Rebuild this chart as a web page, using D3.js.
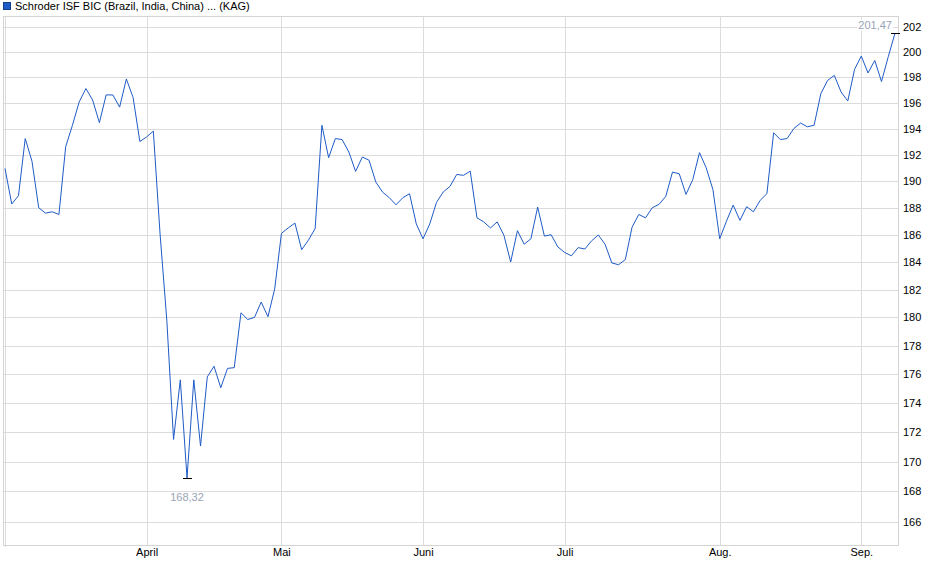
<!DOCTYPE html>
<html lang="de">
<head>
    <meta charset="UTF-8">
    <title>Schroder ISF BIC</title>
    <script src="https://cdn.jsdelivr.net/npm/d3@7"></script>
    <style>
        body { margin: 0; background: #fff; }
        text { font-family: "Liberation Sans", Arial, sans-serif; }
    </style>
</head>
<body>
<div id="chart"></div>

<script>
    // fund name and price series (one value per trading day)
    var title = "Schroder ISF BIC (Brazil, India, China) ... (KAG)";
    var prices = [
        190.95, 188.28, 188.9, 193.23, 191.5, 188.0, 187.6, 187.7, 187.5, 192.6,
        194.25, 196.05, 197.1, 196.2, 194.45, 196.6, 196.6, 195.65, 197.85, 196.4,
        193.0, 193.35, 193.8, 186.05, 179.8, 171.5, 175.6, 168.9, 175.6, 171.05,
        175.8, 176.55, 175.05, 176.4, 176.45, 180.33, 179.85, 180.0, 181.1, 180.05,
        182.05, 186.1, 186.5, 186.86, 184.9, 185.6, 186.45, 194.25, 191.77, 193.23,
        193.15, 192.2, 190.73, 191.82, 191.57, 189.92, 189.17, 188.75, 188.22, 188.75,
        189.05, 186.8, 185.7, 186.8, 188.4, 189.18, 189.6, 190.5, 190.43, 190.75,
        187.25, 186.95, 186.5, 186.95, 185.95, 184.0, 186.3, 185.3, 185.7, 188.05,
        185.9, 186.0, 185.1, 184.7, 184.45, 185.05, 184.95, 185.55, 185.98, 185.3,
        183.93, 183.8, 184.17, 186.55, 187.5, 187.25, 188.0, 188.25, 188.85, 190.68,
        190.55, 189.0, 190.1, 192.15, 191.0, 189.35, 185.7, 187.0, 188.2, 187.06,
        188.08, 187.7, 188.55, 189.05, 193.67, 193.15, 193.23, 194.0, 194.42, 194.13,
        194.25, 196.7, 197.73, 198.13, 196.83, 196.13, 198.6, 199.65, 198.32, 199.3,
        197.65, 199.6, 201.47
    ];
    // month starts as index into prices
    var monthIndex = [21, 41, 62, 83, 106, 127];
    var monthLabels = ["April", "Mai", "Juni", "Juli", "Aug.", "Sep."];
    var yTicks = [166, 168, 170, 172, 174, 176, 178, 180, 182, 184, 186, 188, 190, 192, 194, 196, 198, 200, 202];
    var minLabel = "168,32";
    var maxLabel = "201,47";

    var width = 940, height = 579;
    var plot = {left: 3, right: 898, top: 16, bottom: 545};

    var x = d3.scaleLinear()
        .domain([0, prices.length - 1])
        .range([5, 895]);
    // log price axis
    var y = d3.scaleLog()
        .domain([164.47, 202.85])
        .range([plot.bottom, plot.top]);

    var svg = d3.select("#chart")
        .append("svg")
            .attr("width", width)
            .attr("height", height);

    // title with legend square
    svg.append("rect")
        .attr("x", 3.5).attr("y", 2.5)
        .attr("width", 7).attr("height", 7)
        .attr("fill", "#1f5bc6")
        .attr("stroke", "#173f8a");
    svg.append("text")
        .attr("x", 15).attr("y", 10)
        .attr("font-size", 11)
        .attr("fill", "#000")
        .text(title);

    var grid = svg.append("g")
        .attr("stroke", "#dcdcdc")
        .attr("shape-rendering", "crispEdges");

    grid.selectAll("line.h")
        .data(yTicks)
        .enter()
        .append("line")
            .attr("x1", plot.left).attr("x2", plot.right)
            .attr("y1", function (d) { return Math.round(y(d)) + 0.5; })
            .attr("y2", function (d) { return Math.round(y(d)) + 0.5; });

    grid.selectAll("line.v")
        .data([0].concat(monthIndex))
        .enter()
        .append("line")
            .attr("x1", function (d) { return Math.round(x(d)) + 0.5; })
            .attr("x2", function (d) { return Math.round(x(d)) + 0.5; })
            .attr("y1", plot.top)
            .attr("y2", function (d) { return d === 0 ? plot.bottom + 2 : plot.bottom; });

    // frame
    svg.append("rect")
        .attr("x", plot.left + 0.5).attr("y", plot.top + 0.5)
        .attr("width", plot.right - plot.left).attr("height", plot.bottom - plot.top)
        .attr("fill", "none")
        .attr("stroke", "#d4d4d4")
        .attr("shape-rendering", "crispEdges");

    // right axis labels
    var yAxis = d3.axisRight(y)
        .tickValues(yTicks)
        .tickFormat(d3.format("d"))
        .tickSize(0)
        .tickPadding(5);
    svg.append("g")
        .attr("transform", "translate(" + plot.right + ",0)")
        .call(yAxis)
        .call(function (g) { g.select(".domain").remove(); })
        .selectAll("text")
            .attr("font-family", "Liberation Sans, Arial, sans-serif")
            .attr("font-size", 11)
            .attr("fill", "#000");

    // month labels
    var xAxis = d3.axisBottom(x)
        .tickValues(monthIndex)
        .tickFormat(function (d, i) { return monthLabels[i]; })
        .tickSize(0)
        .tickPadding(3);
    svg.append("g")
        .attr("transform", "translate(0," + plot.bottom + ")")
        .call(xAxis)
        .call(function (g) { g.select(".domain").remove(); })
        .selectAll("text")
            .attr("font-family", "Liberation Sans, Arial, sans-serif")
            .attr("font-size", 11)
            .attr("fill", "#000");

    // price line
    var line = d3.line()
        .x(function (d, i) { return x(i); })
        .y(function (d) { return y(d); });
    svg.append("path")
        .datum(prices)
        .attr("fill", "none")
        .attr("stroke", "#1f5bc6")
        .attr("stroke-width", 1)
        .attr("d", line);

    // min / max markers
    var minI = d3.minIndex(prices), maxI = d3.maxIndex(prices);

    svg.append("line")
        .attr("x1", x(minI) - 4.5).attr("x2", x(minI) + 4.5)
        .attr("y1", Math.round(y(prices[minI])) + 0.5)
        .attr("y2", Math.round(y(prices[minI])) + 0.5)
        .attr("stroke", "#000")
        .attr("shape-rendering", "crispEdges");
    svg.append("text")
        .attr("x", x(minI))
        .attr("y", y(prices[minI]) + 23)
        .attr("text-anchor", "middle")
        .attr("font-size", 11)
        .attr("fill", "#98a3b4")
        .text(minLabel);

    svg.append("line")
        .attr("x1", x(maxI) - 4.5).attr("x2", x(maxI) + 4.5)
        .attr("y1", Math.round(y(prices[maxI])) + 0.5)
        .attr("y2", Math.round(y(prices[maxI])) + 0.5)
        .attr("stroke", "#000")
        .attr("shape-rendering", "crispEdges");
    // label sits on a white patch over the grid
    var maxG = svg.append("g");
    var maxBg = maxG.append("rect").attr("fill", "#fff");
    var maxText = maxG.append("text")
        .attr("x", x(maxI) - 3)
        .attr("y", y(prices[maxI]) - 4)
        .attr("text-anchor", "end")
        .attr("font-size", 11)
        .attr("fill", "#98a3b4")
        .text(maxLabel);
    var bb = maxText.node().getBBox();
    maxBg
        .attr("x", bb.x - 1).attr("y", bb.y + 1)
        .attr("width", bb.width + 2).attr("height", bb.height - 2);
</script>

</body>
</html>
